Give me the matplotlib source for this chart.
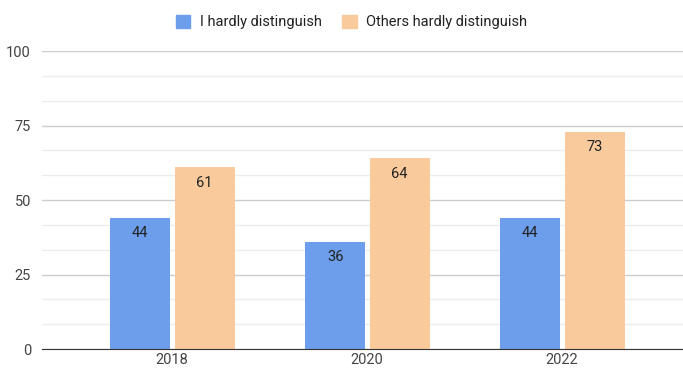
import matplotlib.pyplot as plt
import numpy as np
from matplotlib.patches import Patch

# data
years = ['2018', '2020', '2022']
me_vals = [44, 36, 44]
others_vals = [61, 64, 73]
series_names = ['I hardly distinguish', 'Others hardly distinguish']
blue = '#6d9eeb'
orange = '#f9cb9c'

plt.rcParams['font.family'] = ['Roboto', 'DejaVu Sans']

fig = plt.figure(figsize=(6.83, 3.68), dpi=100)
ax = fig.add_axes([0.0615, 0.0516, 0.9385, 0.8095])

x = np.arange(len(years))
w = 0.308
b1 = ax.bar(x - 0.163, me_vals, w, color=blue, zorder=3)
b2 = ax.bar(x + 0.167, others_vals, w, color=orange, zorder=3)

# value labels inside the top of each bar
for bars, vals in [(b1, me_vals), (b2, others_vals)]:
    for r, v in zip(bars, vals):
        ax.annotate(str(v), (r.get_x() + r.get_width() / 2, v),
                    xytext=(0, -6), textcoords='offset points',
                    ha='center', va='top', fontsize=10.5, color='#222222')

ax.set_ylim(0, 100)
ax.set_xlim(-0.667, 2.62)
ax.set_yticks([0, 25, 50, 75, 100])
ax.set_yticks(np.arange(0, 100, 25 / 3), minor=True)
ax.set_xticks(x)
ax.set_xticklabels(years)
ax.grid(axis='y', which='major', color='#cccccc', linewidth=1, zorder=0)
ax.grid(axis='y', which='minor', color='#ececec', linewidth=1, zorder=0)
ax.tick_params(axis='both', which='both', length=0, labelsize=10.5, labelcolor='#444444')
ax.tick_params(axis='y', pad=8)
ax.tick_params(axis='x', pad=3)
for s in ['top', 'right', 'left']:
    ax.spines[s].set_visible(False)
ax.spines['bottom'].set_color('#333333')
ax.spines['bottom'].set_zorder(4)

handles = [Patch(color=blue), Patch(color=orange)]
fig.legend(handles, series_names, loc='center', bbox_to_anchor=(0.5147, 0.94),
           ncol=2, frameon=False, fontsize=10.5, handlelength=1.0, handleheight=1.0,
           handletextpad=0.68, columnspacing=1.37, labelcolor='#222222')

plt.savefig('out.png', dpi=100)
